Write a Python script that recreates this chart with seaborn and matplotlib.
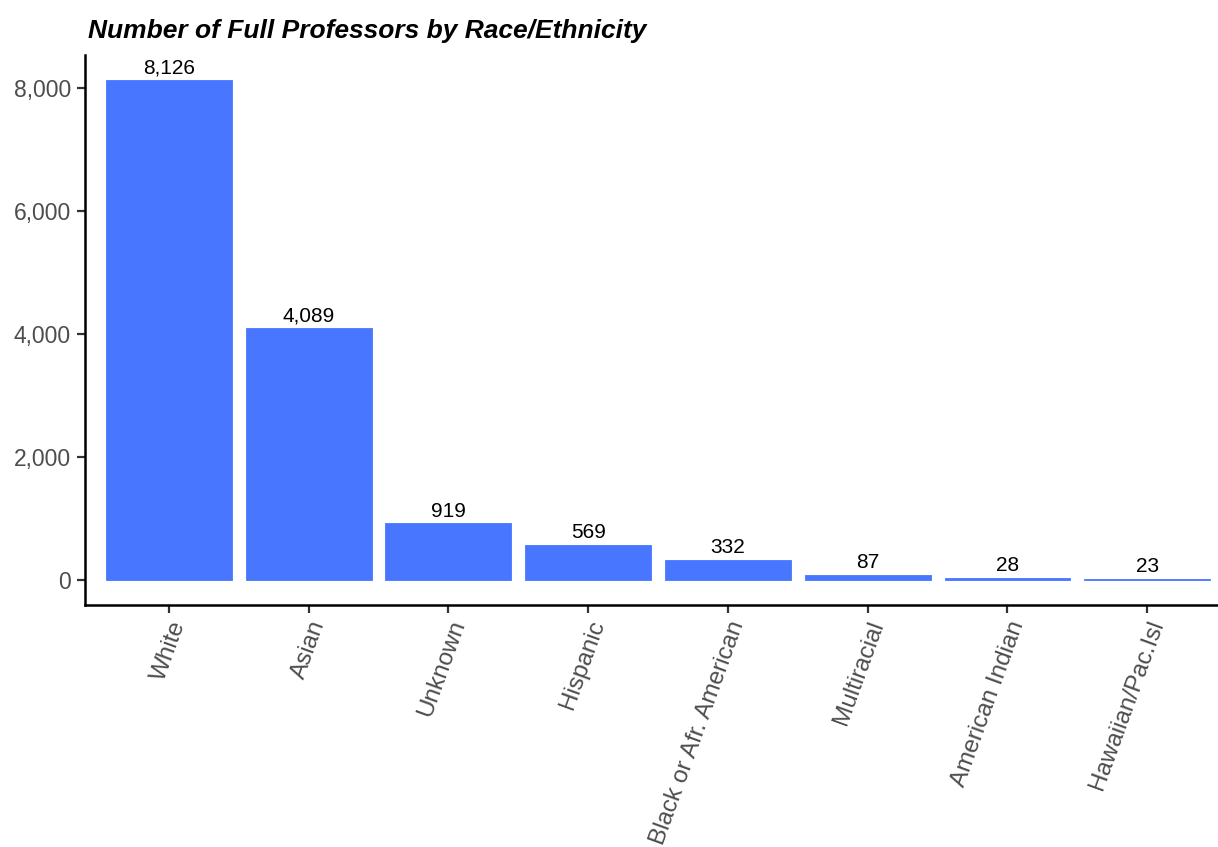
import matplotlib
matplotlib.use("Agg")
import matplotlib.pyplot as plt
import seaborn as sns
import pandas as pd
from matplotlib.ticker import FuncFormatter

sns.set_theme(style="ticks")
plt.rcParams["font.family"] = ["Liberation Sans", "DejaVu Sans"]

categories = ["White", "Asian", "Unknown", "Hispanic", "Black or Afr. American",
              "Multiracial", "American Indian", "Hawaiian/Pac.Isl"]
counts = [8126, 4089, 919, 569, 332, 87, 28, 23]
y_ticks = [0, 2000, 4000, 6000, 8000]

df = pd.DataFrame({"race": categories, "n": counts})

fig = plt.figure(figsize=(12.18, 8.47), dpi=100)
ax = fig.add_axes([85 / 1218, 1 - 605 / 847, 1146 / 1218, 550 / 847])

sns.barplot(data=df, x="race", y="n", color="#4876FF", saturation=1,
            width=0.9, ax=ax, order=categories,
            edgecolor="#4876FF", linewidth=0.6)

for i, v in enumerate(counts):
    ax.annotate(f"{v:,}", (i, v), xytext=(0, 2), textcoords="offset points",
                ha="center", va="bottom", fontsize=15, color="black")

ymax = max(counts)
pad = ymax * 0.05
ax.set_ylim(-pad, ymax + pad)
ax.set_xlim(-0.6, len(categories) - 0.4)
ax.set_yticks(y_ticks)
ax.yaxis.set_major_formatter(FuncFormatter(lambda v, p: f"{int(v):,}"))

ax.set_xlabel("")
ax.set_ylabel("")
for s in ["top", "right"]:
    ax.spines[s].set_visible(False)
for s in ["left", "bottom"]:
    ax.spines[s].set_linewidth(1.8)
    ax.spines[s].set_color("black")
ax.tick_params(axis="both", length=6, width=1.6, color="#333333",
               labelsize=16.5, labelcolor="#4D4D4D", pad=4)
ax.tick_params(axis="x", labelsize=17.5, pad=3)
plt.setp(ax.get_xticklabels(), rotation=70, ha="right", va="top",
         rotation_mode="anchor")

ax.set_title("Number of Full Professors by Race/Ethnicity", loc="left",
             fontsize=19, fontweight="bold", fontstyle="italic", pad=12,
             x=0.003, color="black")

fig.savefig("out.png", dpi=100)
